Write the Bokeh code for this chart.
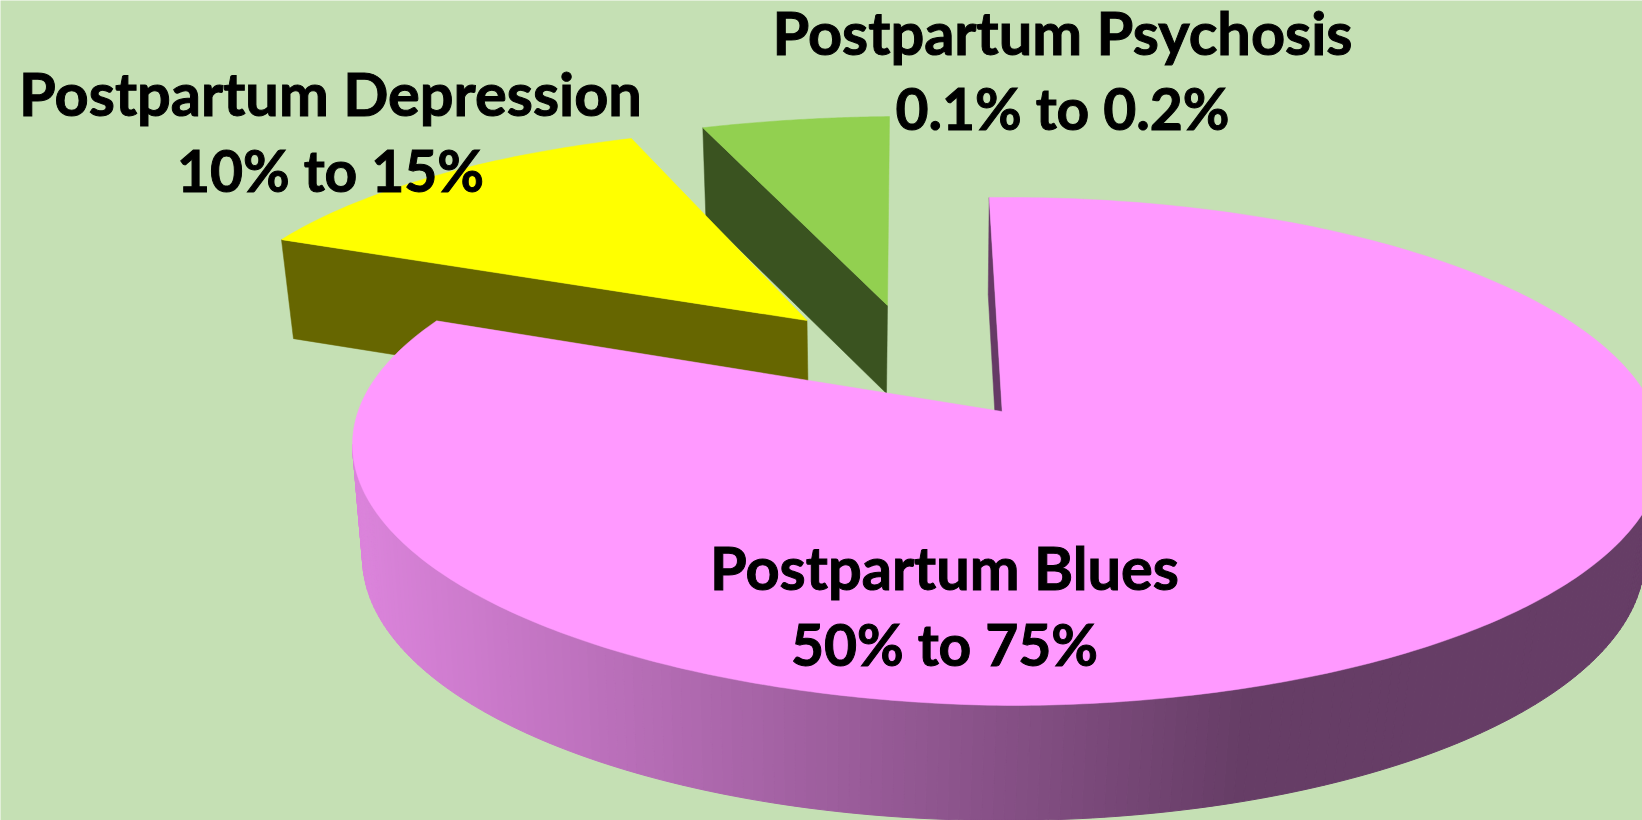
import numpy as np
from bokeh.embed import file_html
from bokeh.resources import INLINE
from bokeh.plotting import figure
from bokeh.models import Range1d
from bokeh.core.properties import value

# ---- data ----
categories = ["Postpartum Blues", "Postpartum Depression", "Postpartum Psychosis"]
ranges = ["50% to 75%", "10% to 15%", "0.1% to 0.2%"]
shares = [83.6, 11.8, 4.6]          # visual size of each slice, percent of the pie

# ---- layout and style ----
W, H = 1642, 820
BG = "#c5e0b4"
START_DEG = -1.6
TOP = ["#ff99ff", "#ffff00", "#92d050"]
SIDE = ["#663a66", "#666600", "#3a5320"]
APEX = [(1001.7, 411.0), (806.5, 320.0), (887.0, 305.0)]
ELLIPSE = [(1007.0, 451.0, 655.0, 254.0), (825.7, 347.0, 625.0, 220.0), (907.4, 342.0, 658.0, 226.0)]
TILT_LEFT = [7.0, 0.0, 0.0]
BASE_ELLIPSE = (1003.0, 557.0, 641.0, 263.0)
RIM_DROP = [(-1.0, 97.0), (12.0, 99.0), (3.0, 89.0)]
APEX_DROP = [(-1.0, 114.0), (1.5, 100.0), (-1.0, 88.0)]
LABEL_X = [944, 330, 1062]
LABEL_Y = [(566, 643), (92, 169), (31, 107)]
FONT = "Lato"
NAME_SIZE = "59.5px"
RANGE_SIZE = "57px"


def rim(e, deg, tilt=0.0):
    a = np.radians(deg)
    s = np.sin(a)
    return e[0] + e[2] * s, e[1] - e[3] * np.cos(a) + tilt * np.minimum(s, 0)


edges = START_DEG + np.concatenate([[0], np.cumsum(shares)]) * 3.6

p = figure(width=W, height=H, x_range=Range1d(0, W), y_range=Range1d(H, 0),
           toolbar_location=None, output_backend="svg", min_border=0,
           background_fill_color=BG, border_fill_color=BG,
           styles={"position": "fixed", "left": "0", "top": "0"})
p.axis.visible = False
p.grid.visible = False
p.outline_line_color = None

# the two pulled-out slices, back to front
for i in (2, 1):
    d0, d1 = edges[i], edges[i + 1]
    ax, ay = APEX[i]
    rx, ry = rim(ELLIPSE[i], d0)
    (mx, my), (nx, ny) = RIM_DROP[i], APEX_DROP[i]
    p.patch([rx, ax, ax + nx, rx + mx], [ry, ay, ay + ny, ry + my],
            fill_color=SIDE[i], line_color=SIDE[i], line_width=0.5)
    t = np.linspace(d0, d1, 60)
    x, y = rim(ELLIPSE[i], t)
    p.patch(np.r_[ax, x], np.r_[ay, y], fill_color=TOP[i], line_color=TOP[i], line_width=0.5)

# the big slice: cut face seen at its start
ax, ay = APEX[0]
rx, ry = rim(ELLIPSE[0], edges[0])
(mx, my), (nx, ny) = RIM_DROP[0], APEX_DROP[0]
p.patch([rx, ax, ax + nx, rx + mx], [ry, ay, ay + ny, ry + my],
        fill_color=SIDE[0], line_color=SIDE[0], line_width=0.5)

# the big slice: shaded outer wall, one strip per step of the rim
steps = np.linspace(85, 270, 186)
xs, ys, cols = [], [], []
for d0, d1 in zip(steps[:-1], steps[1:]):
    t = np.array([d0, d1])
    tx, ty = rim(ELLIPSE[0], t, TILT_LEFT[0])
    bx, by = rim(BASE_ELLIPSE, t)
    xs.append([tx[0], tx[1], bx[1], bx[0]])
    ys.append([ty[0], ty[1], by[1], by[0]])
    f = np.clip((tx.mean() - 360) / (1250 - 360), 0, 1)
    k = 0.86 + (0.40 - 0.86) * f
    cols.append("#%02x%02x%02x" % (int(255 * k), int(153 * k), int(255 * k)))
p.patches(xs, ys, fill_color=cols, line_color=cols, line_width=1)

# the big slice: top
t = np.linspace(edges[0], edges[1], 400)
x, y = rim(ELLIPSE[0], t, TILT_LEFT[0])
p.patch(np.r_[ax, x], np.r_[ay, y], fill_color=TOP[0], line_color=TOP[0], line_width=0.5)

# labels
for i in range(3):
    for txt, yy, size in zip((categories[i], ranges[i]), LABEL_Y[i], (NAME_SIZE, RANGE_SIZE)):
        p.text([LABEL_X[i]], [yy], text=[txt], text_align="center", text_baseline="alphabetic",
               text_font=value(FONT), text_font_style="bold", text_font_size=size,
               text_color="#000000", text_outline_color="#000000")

open("out.html", "w").write(file_html(p, INLINE))
